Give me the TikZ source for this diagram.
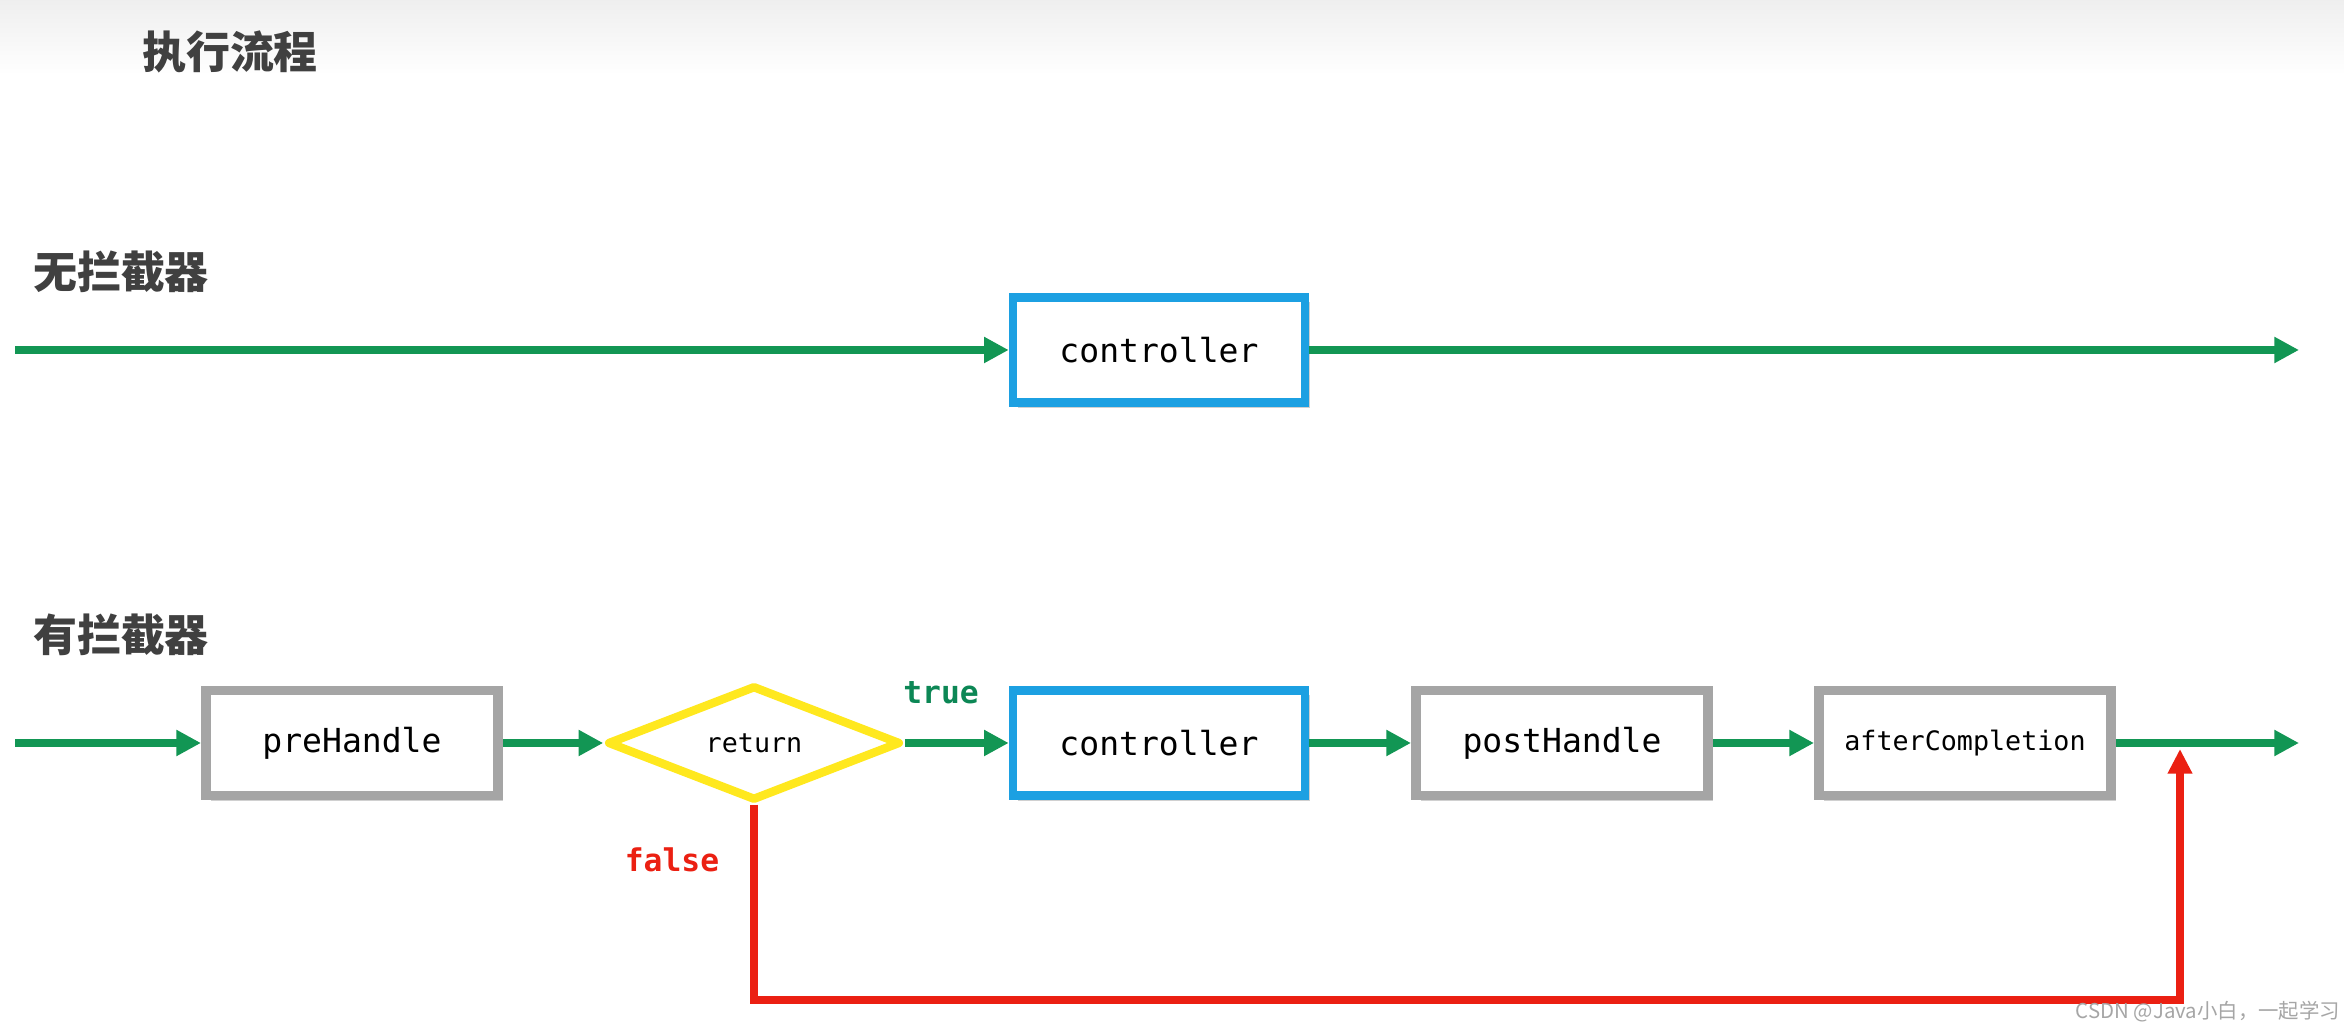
\documentclass[tikz,border=0pt]{standalone}
\usepackage{fontspec}
\setmonofont{DejaVu Sans Mono}
\newfontfamily\cjk{Noto Sans CJK SC}
\usetikzlibrary{arrows.meta,shapes.geometric,shadows}
\definecolor{flowgreen}{RGB}{18,150,84}
\definecolor{truegreen}{RGB}{12,135,85}
\definecolor{ctrlblue}{RGB}{28,160,226}
\definecolor{boxgray}{RGB}{165,165,165}
\definecolor{retyellow}{RGB}{255,232,30}
\definecolor{falsered}{RGB}{235,32,18}
\definecolor{headgray}{RGB}{64,64,64}
\tikzset{
  boxshadow/.style={drop shadow={shadow xshift=0.05cm, shadow yshift=-0.05cm, opacity=0.3, fill=black!60}},
  graybox/.style={draw=boxgray, line width=2.8pt, fill=white, minimum width=2.92cm, minimum height=1.05cm, inner sep=0pt, boxshadow, font=\ttfamily\fontsize{9.4}{11}\selectfont},
  bluebox/.style={graybox, draw=ctrlblue, line width=2.4pt},
  smalltext/.style={font=\ttfamily\fontsize{7.6}{9}\selectfont},
  decision/.style={diamond, draw=retyellow, line width=2.4pt, fill=white, line join=round, minimum width=2.93cm, minimum height=1.15cm, aspect=2.7, inner sep=0pt, smalltext},
  flow/.style={draw=flowgreen, line width=2pt, -{Triangle[length=7pt,width=7pt]}},
  redflow/.style={draw=falsered, line width=2pt, line join=miter, -{Triangle[length=7pt,width=6.6pt]}},
  heading/.style={text=headgray, font=\cjk\bfseries\fontsize{12.5}{14}\selectfont, inner sep=0pt},
  branchlabel/.style={font=\ttfamily\bfseries\fontsize{8.9}{10}\selectfont, inner sep=0pt}
}
\begin{document}
\begin{tikzpicture}[x=0.01cm, y=-0.01cm]
\useasboundingbox (0,0) rectangle (2344,1031);
\fill[white] (0,0) rectangle (2344,1031);
\shade[top color=gray!13, bottom color=white] (0,0) rectangle (2344,75);

% headings
\node[heading] (title) at (230,52) {执行流程};
\node[heading] (h1) at (121,272) {无拦截器};
\node[heading] (h2) at (121,635) {有拦截器};

% row without interceptor
\coordinate (s1) at (15,350);
\coordinate (e1) at (2299,350);
\node[bluebox] (ctop) at (1159,350) {controller};
\draw[flow] (s1) -- (ctop.west);
\draw[flow] (ctop.east) -- (e1);

% row with interceptor
\coordinate (s2) at (15,743);
\coordinate (e2) at (2299,743);
\node[graybox] (pre) at (352,743) {preHandle};
\node[decision] (ret) at (754,743) {return};
\node[bluebox] (ctrl) at (1159,743) {controller};
\node[graybox] (post) at (1562,743) {postHandle};
\node[graybox, smalltext] (after) at (1965,743) {afterCompletion};

\draw[flow] (s2) -- (pre.west);
\draw[flow] (pre.east) -- (ret.west);
\draw[flow] (ret.east) -- (ctrl.west);
\draw[flow] (ctrl.east) -- (post.west);
\draw[flow] (post.east) -- (after.west);
\draw[flow] (after.east) -- (e2);

\node[branchlabel, text=truegreen] (tl) at (941,693) {true};
\node[branchlabel, text=falsered] (fl) at (672,860) {false};

% false path
\coordinate (rb) at (2180,1000);
\coordinate (merge) at (2180,749);
\draw[redflow] (ret.south) |- (rb) -- (merge);

% watermark
\node[text=gray!70, font=\cjk\fontsize{5.8}{7}\selectfont, inner sep=0pt] (wm) at (2208,1012) {CSDN @Java小白，一起学习};
\end{tikzpicture}
\end{document}
